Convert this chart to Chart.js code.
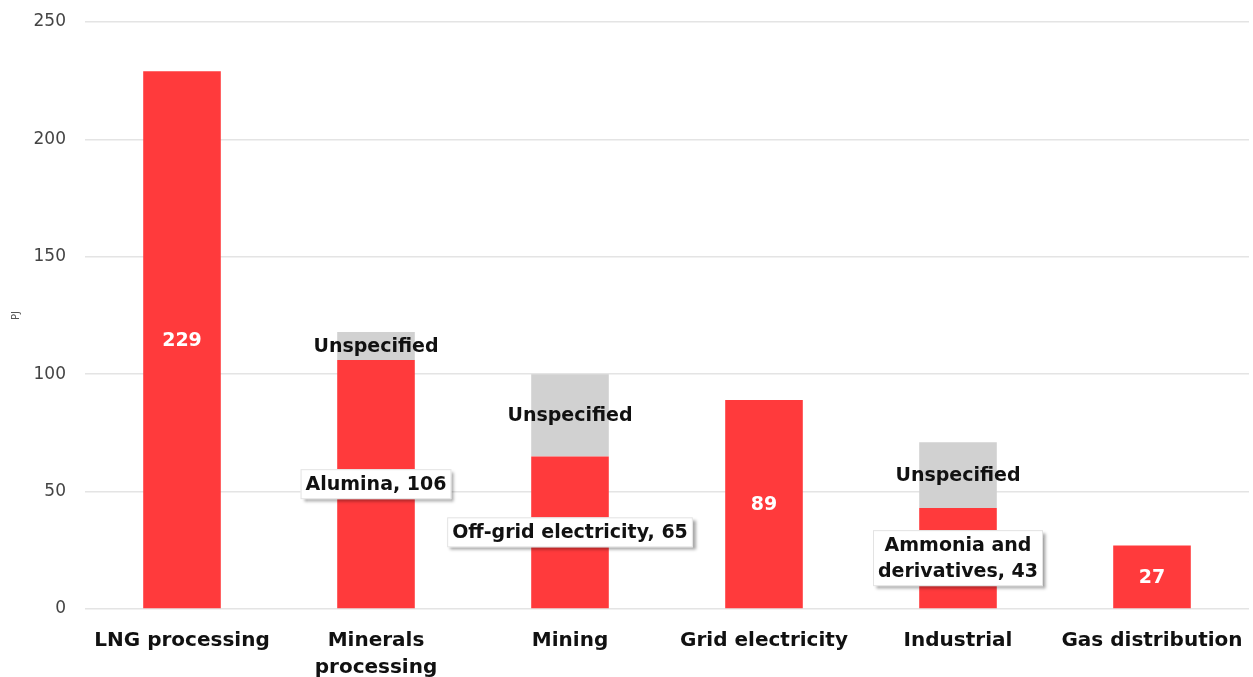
<!DOCTYPE html>
<html>
<head>
<meta charset="utf-8">
<script src="https://cdn.jsdelivr.net/npm/chart.js@4/dist/chart.umd.min.js"></script>
<style>
  html, body { margin: 0; padding: 0; background: #fff; }
  #wrap { width: 1253px; height: 677px; position: relative; }
</style>
</head>
<body>
<div id="wrap"><canvas id="gas"></canvas></div>
<script>
// gas use by sector, PJ
const sectors = ['LNG processing', ['Minerals', 'processing'], 'Mining', 'Grid electricity', 'Industrial', 'Gas distribution'];
const specified = [229, 106, 65, 89, 43, 27];
const unspecified = [0, 12, 35, 0, 28, 0];

// text shown inside the red part of each bar
const specifiedText = ['229', 'Alumina, 106', 'Off-grid electricity, 65', '89', ['Ammonia and', 'derivatives, 43'], '27'];
// true = black text in a white box, false = plain white number
const boxed = [false, true, true, false, true, false];
const unspecifiedText = ['', 'Unspecified', 'Unspecified', '', 'Unspecified', ''];

const yTicks = [0, 50, 100, 150, 200, 250];

const RED = '#ff3a3c';
const GREY = '#d1d1d1';
const FONT = '"DejaVu Sans", Verdana, sans-serif';

// writes the labels in the middle of each bar segment
const segmentLabels = {
  id: 'segmentLabels',
  afterDatasetsDraw(chart) {
    const ctx = chart.ctx;
    ctx.save();
    ctx.textAlign = 'center';
    ctx.textBaseline = 'middle';
    ctx.font = 'bold 19px ' + FONT;

    const red = chart.getDatasetMeta(0);
    red.data.forEach(function (bar, i) {
      if (!specified[i]) return;
      const p = bar.getProps(['x', 'y', 'base'], true);
      const cy = (p.y + p.base) / 2;
      const lines = [].concat(specifiedText[i]);
      if (boxed[i]) {
        const lh = 26;
        let w = 0;
        lines.forEach(function (l) { w = Math.max(w, ctx.measureText(l).width); });
        const bw = w + 10, bh = lines.length * lh + 4;
        const bx = p.x - bw / 2, by = cy - bh / 2;
        ctx.shadowColor = 'rgba(0,0,0,0.35)';
        ctx.shadowOffsetX = 3;
        ctx.shadowOffsetY = 3;
        ctx.shadowBlur = 3;
        ctx.fillStyle = '#fff';
        ctx.fillRect(bx, by, bw, bh);
        ctx.shadowColor = 'transparent';
        ctx.strokeStyle = '#e3e3e3';
        ctx.lineWidth = 1;
        ctx.strokeRect(bx + 0.5, by + 0.5, bw - 1, bh - 1);
        ctx.fillStyle = '#111';
        lines.forEach(function (l, k) {
          ctx.fillText(l, p.x, by + 2 + lh / 2 + k * lh + 1);
        });
      } else {
        ctx.fillStyle = '#fff';
        ctx.fillText(lines[0], p.x, cy + 1);
      }
    });

    const grey = chart.getDatasetMeta(1);
    grey.data.forEach(function (bar, i) {
      if (!unspecified[i]) return;
      const p = bar.getProps(['x', 'y', 'base'], true);
      ctx.fillStyle = '#111';
      ctx.fillText(unspecifiedText[i], p.x, (p.y + p.base) / 2 + 1);
    });
    ctx.restore();
  }
};

new Chart(document.getElementById('gas'), {
  type: 'bar',
  data: {
    labels: sectors,
    datasets: [
      { label: 'Specified', data: specified, backgroundColor: RED, borderWidth: 0 },
      { label: 'Unspecified', data: unspecified, backgroundColor: GREY, borderWidth: 0 }
    ]
  },
  options: {
    responsive: true,
    maintainAspectRatio: false,
    animation: false,
    layout: { autoPadding: false, padding: { top: 22, right: 4, left: 0, bottom: 0 } },
    datasets: { bar: { categoryPercentage: 1, barPercentage: 0.4 } },
    plugins: { legend: { display: false }, tooltip: { enabled: false } },
    scales: {
      x: {
        stacked: true,
        // fixed axis box, no extra room for the outer labels
        afterFit(scale) {
          scale.height = 68;
          scale.paddingLeft = 0;
          scale.paddingRight = 0;
        },
        grid: { display: false, drawTicks: false },
        border: { display: false },
        ticks: {
          color: '#111',
          padding: 18,
          maxRotation: 0,
          autoSkip: false,
          font: { family: FONT, size: 20, weight: 'bold', lineHeight: 1.35 }
        }
      },
      y: {
        stacked: true,
        min: 0,
        max: 250,
        afterBuildTicks(scale) { scale.ticks = yTicks.map(function (v) { return { value: v }; }); },
        afterFit(scale) {
          scale.width = 85;
          scale.paddingTop = 0;
          scale.paddingBottom = 0;
        },
        grid: { color: '#e4e4e4', lineWidth: 1.5, drawTicks: false },
        border: { display: false },
        title: { display: true, text: 'PJ', color: '#555', font: { family: FONT, size: 10 }, padding: 10 },
        ticks: { color: '#444', padding: 19, font: { family: FONT, size: 17 } }
      }
    }
  },
  plugins: [segmentLabels]
});
</script>
</body>
</html>
